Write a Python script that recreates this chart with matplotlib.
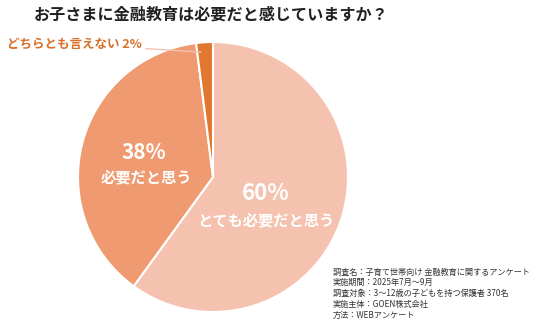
import matplotlib
matplotlib.use("Agg")
import matplotlib.pyplot as plt

plt.rcParams['font.family'] = ['Noto Sans CJK JP', 'DejaVu Sans']

# === Data ===
title = "お子さまに金融教育は必要だと感じていますか？"
labels = ["とても必要だと思う", "必要だと思う", "どちらとも言えない"]
shares = [60, 38, 2]
colors = ["#F5C2AF", "#EF9A70", "#E0782F"]
notes = [
    "調査名：子育て世帯向け 金融教育に関するアンケート",
    "実施期間：2025年7月〜9月",
    "調査対象：3〜12歳の子どもを持つ保護者 370名",
    "実施主体：GOEN株式会社",
    "方法：WEBアンケート",
]

W, H = 536, 322
fig = plt.figure(figsize=(W / 100, H / 100), dpi=100)

# pie centre (213,177) px, radius 135 px
cx, cy, r = 213, 177, 135
ax = fig.add_axes([(cx - r) / W, (H - cy - r) / H, 2 * r / W, 2 * r / H])
wedges, _ = ax.pie(shares, colors=colors, startangle=90, counterclock=False,
                   radius=1, wedgeprops=dict(edgecolor="white", linewidth=1.5, clip_on=False))
ax.set_xlim(-1, 1)
ax.set_ylim(-1, 1)
ax.set_aspect("equal")
ax.axis("off")

# labels inside slices
ax.text(0.39, -0.12, f"{shares[0]}%", color="white", fontsize=16, fontweight="bold",
        ha="center", va="center")
ax.text(0.39, -0.32, labels[0], color="white", fontsize=11, fontweight="bold",
        ha="center", va="center")
ax.text(-0.51, 0.18, f"{shares[1]}%", color="white", fontsize=15, fontweight="bold",
        ha="center", va="center")
ax.text(-0.49, 0.0, labels[1], color="white", fontsize=11, fontweight="bold",
        ha="center", va="center")

# outside label for small slice
ax.annotate(f"{labels[2]} {shares[2]}%", xy=(-0.09, 0.925), xytext=(-0.53, 0.985),
            color="#D9702A", fontsize=9, fontweight="bold", ha="right", va="center",
            arrowprops=dict(arrowstyle="-", color="#F5C2AF", lw=1, shrinkA=1, shrinkB=0),
            annotation_clip=False)

fig.text(211 / W, 1 - 15 / H, title, fontsize=11.6, fontweight="bold",
         ha="center", va="center", color="#222222")

for i, line in enumerate(notes):
    fig.text(333 / W, 1 - (272 + i * 10.8) / H, line, fontsize=5.9,
             ha="left", va="center", color="#333333")

fig.savefig("out.png", dpi=100)
